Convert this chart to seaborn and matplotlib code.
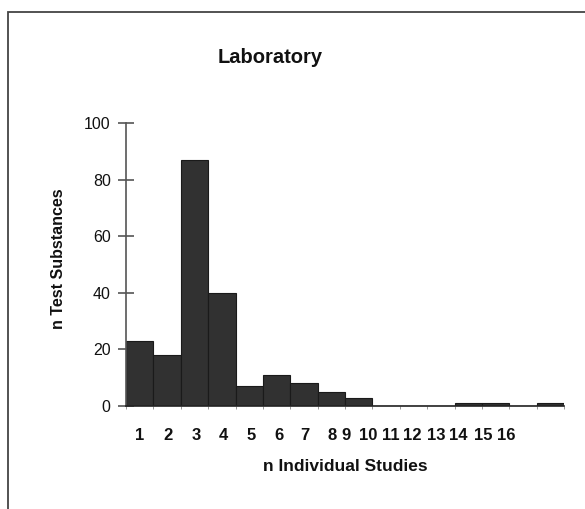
import matplotlib
matplotlib.use("Agg")
import matplotlib.pyplot as plt
from matplotlib.patches import Rectangle
import seaborn as sns
import pandas as pd
import numpy as np

# ---- data ----
n_studies = [str(i) for i in range(1, 17)]
n_substances = [23, 18, 87, 40, 7, 11, 8, 5, 3, 0, 0, 0, 1, 1, 0, 1]
tick_labels = [str(i) for i in range(1, 17)]
y_ticks = [0, 20, 40, 60, 80, 100]

df = pd.DataFrame({"studies": n_studies, "substances": n_substances})

sns.set_theme(style="white")
plt.rcParams["font.family"] = ["Liberation Sans", "DejaVu Sans"]

W, H = 585, 509
fig = plt.figure(figsize=(W / 100, H / 100), dpi=100)
fig.patch.set_facecolor("white")

ax = fig.add_axes([126 / W, 1 - 406 / H, 438 / W, 283 / H])
sns.barplot(data=df, x="studies", y="substances", order=n_studies,
            color="#333333", width=1.0, saturation=1, ax=ax,
            edgecolor="#1a1a1a", linewidth=0.8)
for p in ax.patches:
    p.set_facecolor("#313131")

ax.set_xlim(-0.5, len(n_studies) - 0.5)
ax.set_ylim(0, 100)

for s in ["top", "right"]:
    ax.spines[s].set_visible(False)
ax.spines["left"].set_color("#555555")
ax.spines["left"].set_linewidth(1.2)
ax.spines["bottom"].set_color("#222222")
ax.spines["bottom"].set_linewidth(1.2)

# y ticks
ax.set_yticks(y_ticks)
ax.set_yticklabels([str(v) for v in y_ticks], fontsize=11.5, color="#111111")
ax.tick_params(axis="y", direction="inout", length=12, width=1.2,
               color="#555555", pad=5, left=True)

# x: small ticks at bar edges, labels placed like the original print
edges = np.arange(-0.5, len(n_studies) + 0.5, 1.0)
ax.set_xticks(edges, minor=True)
ax.tick_params(axis="x", which="minor", direction="out", length=2.5,
               width=0.6, color="#888888", bottom=True)
label_pos = [0, 1.03, 2.05, 3.04, 4.06, 5.08, 6.03, 7.02, 7.53, 8.33,
             9.17, 9.97, 10.85, 11.65, 12.56, 13.4]
ax.set_xticks(label_pos)
ax.set_xticklabels(tick_labels, fontsize=12, fontweight="bold", color="#111111")
ax.tick_params(axis="x", which="major", length=0, pad=16)

ax.set_xlabel("n Individual Studies", fontsize=12.5, fontweight="bold",
              color="#111111")
ax.xaxis.set_label_coords(0.5, -0.187)
ax.set_ylabel("n Test Substances", fontsize=11.5, fontweight="bold",
              color="#111111")
ax.yaxis.set_label_coords(-0.137, 0.519)

ax.set_title("Laboratory", fontsize=14.5, fontweight="bold", color="#111111",
             x=0.329, y=1.212, pad=0)

# outer frame of the printed figure
fig.patches.append(Rectangle((8 / W, -0.1), 1.2, (1 - 12 / H) + 0.1,
                             transform=fig.transFigure, fill=False,
                             edgecolor="#444444", linewidth=1.3))

fig.savefig("out.png", dpi=100, facecolor="white")
